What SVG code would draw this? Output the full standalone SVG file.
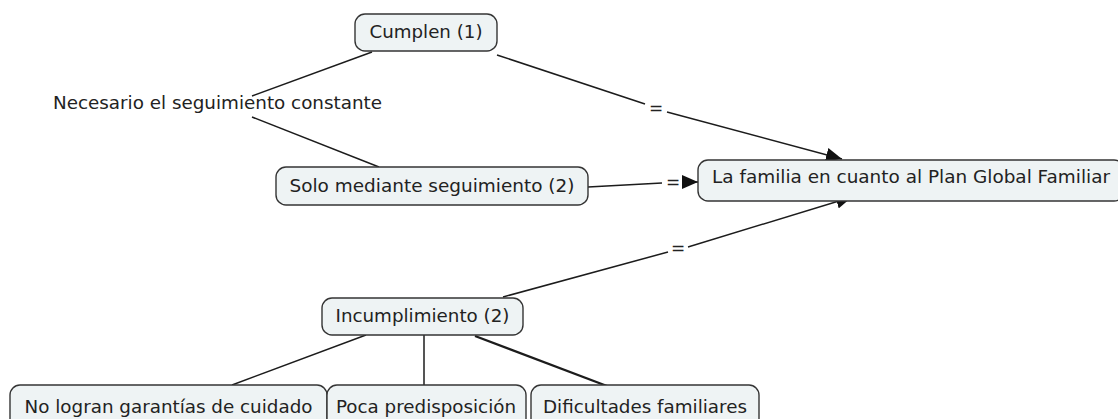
<svg xmlns="http://www.w3.org/2000/svg" width="1118" height="419" viewBox="0 0 1118 419">
<style>
.box{fill:#eef3f4;stroke:#353535;stroke-width:1.4}
.t{font-family:"DejaVu Sans","Liberation Sans",sans-serif;font-size:17px;fill:#222;text-anchor:middle}
.c{fill:none;stroke:#1c1c1c;stroke-width:1.5}
.thick{stroke-width:2.4}
</style>
<defs>
<marker id="arr" markerUnits="userSpaceOnUse" markerWidth="18" markerHeight="14" refX="16" refY="7" orient="auto">
<path d="M0,0 L16,7 L0,14 Z" fill="#111"/>
</marker>
</defs>
<rect width="1118" height="419" fill="#fff"/>
<g id="connectors">
<polyline class="c" points="372,52 252,96"/>
<polyline class="c" points="252,117 379,167"/>
<polyline class="c" points="497,55 645,104"/>
<polyline class="c" points="667,112 842,159" marker-end="url(#arr)"/>
<text class="t" x="656" y="114">=</text>
<polyline class="c" points="588,187 662,183"/>
<polyline class="c" points="684,182 698,182" marker-end="url(#arr)"/>
<text class="t" x="673" y="188">=</text>
<polyline class="c" points="503,297 668,252"/>
<polyline class="c" points="688,247 852,197" marker-end="url(#arr)"/>
<text class="t" x="678" y="254">=</text>
<polyline class="c" points="366,335 232,385"/>
<polyline class="c" points="424,335 424,385"/>
<polyline class="c thick" points="475,336 607,386"/>
</g>
<g id="label-necesario">
<text class="t" x="217.5" y="109" textLength="329" lengthAdjust="spacingAndGlyphs">Necesario el seguimiento constante</text>
</g>
<g id="node-cumplen">
<rect class="box" x="355" y="14" width="142" height="37" rx="10"/>
<text class="t" x="426" y="38" textLength="113" lengthAdjust="spacingAndGlyphs">Cumplen (1)</text>
</g>
<g id="node-solo">
<rect class="box" x="276" y="167" width="312" height="38" rx="10"/>
<text class="t" x="432" y="192" textLength="285" lengthAdjust="spacingAndGlyphs">Solo mediante seguimiento (2)</text>
</g>
<g id="node-familia">
<rect class="box" x="698" y="160" width="426" height="41" rx="10"/>
<text class="t" x="911" y="183" textLength="398" lengthAdjust="spacingAndGlyphs">La familia en cuanto al Plan Global Familiar</text>
</g>
<g id="node-incumplimiento">
<rect class="box" x="322" y="298" width="201" height="37" rx="10"/>
<text class="t" x="422.5" y="322" textLength="174" lengthAdjust="spacingAndGlyphs">Incumplimiento (2)</text>
</g>
<g id="node-nologran">
<rect class="box" x="10" y="385" width="317" height="50" rx="10"/>
<text class="t" x="168.5" y="413" textLength="288" lengthAdjust="spacingAndGlyphs">No logran garantías de cuidado</text>
</g>
<g id="node-poca">
<rect class="box" x="327" y="385" width="199" height="50" rx="10"/>
<text class="t" x="426" y="413" textLength="180" lengthAdjust="spacingAndGlyphs">Poca predisposición</text>
</g>
<g id="node-dificultades">
<rect class="box" x="531" y="385" width="228" height="50" rx="10"/>
<text class="t" x="645" y="413" textLength="204" lengthAdjust="spacingAndGlyphs">Dificultades familiares</text>
</g>
</svg>
